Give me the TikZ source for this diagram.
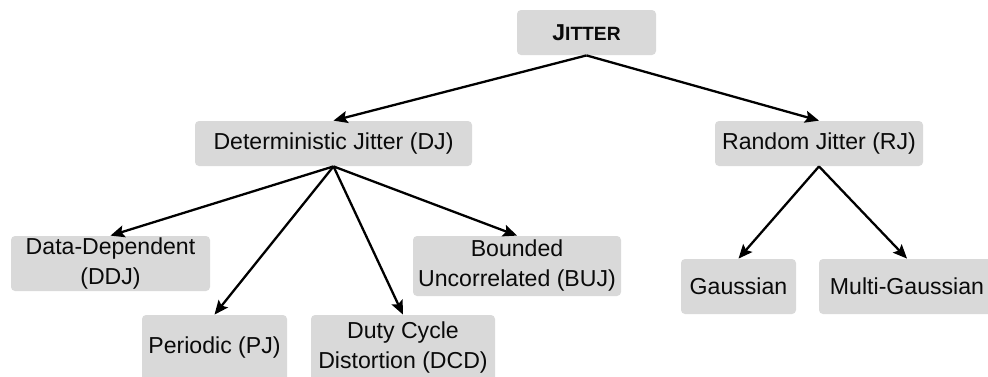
\documentclass[tikz,border=0pt]{standalone}
\usepackage{fontspec}
\setmainfont{Liberation Sans}
\usetikzlibrary{arrows.meta}

\definecolor{boxgray}{HTML}{D9D9D9}
\definecolor{ink}{HTML}{0A0A0A}

\begin{document}
\begin{tikzpicture}[x=0.5pt,y=-0.5pt,
  box/.style={fill=boxgray, rounded corners=2pt, inner sep=0pt, align=center,
              text=ink, font=\fontsize{11.55}{15}\selectfont},
  link/.style={line width=1.15pt, -{Stealth[length=7pt,width=6pt,inset=1.3pt]}}]
  \clip (0,0) rectangle (988,376);

  % root
  \node[box, minimum width=69.5pt, minimum height=22.5pt] (jit) at (586.5,32.5)
    {\bfseries\fontsize{11.5}{14}\selectfont J\fontsize{9.6}{12}\selectfont ITTER};

  % first level
  \node[box, minimum width=138.5pt, minimum height=22.5pt] (dj) at (333.5,143.5)
    {Deterministic Jitter (DJ)};
  \node[box, minimum width=104pt, minimum height=22.5pt] (rj) at (819,143.5)
    {Random Jitter (RJ)};

  % deterministic components
  \node[box, minimum width=99.5pt, minimum height=27.5pt] (ddj) at (110.5,263.5)
    {Data-Dependent\\(DDJ)};
  \node[box, minimum width=104pt, minimum height=30pt] (buj) at (517,266)
    {Bounded\\Uncorrelated (BUJ)};
  \node[box, minimum width=72.5pt, minimum height=33pt] (pj) at (214.5,348)
    {Periodic (PJ)};
  \node[box, minimum width=92pt, minimum height=33pt] (dcd) at (403,348)
    {Duty Cycle\\Distortion (DCD)};

  % random components
  \node[box, minimum width=57.5pt, minimum height=27.5pt] (gau) at (738.5,286.5)
    {Gaussian};
  \node[box, minimum width=88pt, minimum height=27.5pt] (mg) at (907,286.5)
    {Multi-Gaussian};

  % connectors
  \draw[link] (jit.south) -- (dj.north);
  \draw[link] (jit.south) -- (rj.north);
  \draw[link] (dj.south) -- (ddj.north);
  \draw[link] (dj.south) -- (pj.north);
  \draw[link] (dj.south) -- (dcd.north);
  \draw[link] (dj.south) -- (buj.north);
  \draw[link] (rj.south) -- (gau.north);
  \draw[link] (rj.south) -- (mg.north);
\end{tikzpicture}
\end{document}
